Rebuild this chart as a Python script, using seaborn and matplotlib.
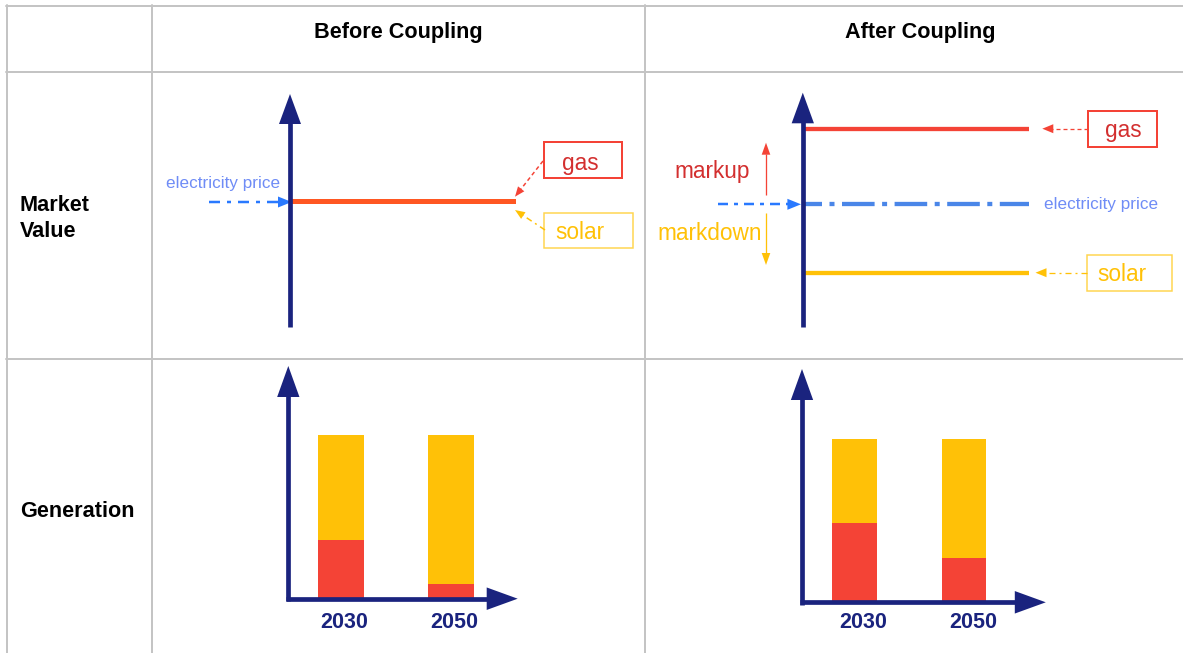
import matplotlib
matplotlib.use("Agg")
import matplotlib.pyplot as plt
import seaborn as sns
import numpy as np
import pandas as pd
from matplotlib.patches import Polygon, Rectangle

# ---------------- data ----------------
columns = ["Before Coupling", "After Coupling"]
row_labels = ["Market\nValue", "Generation"]
years = ["2030", "2050"]
total_generation = [1.0, 1.0]
gas_share_before = [0.36, 0.09]
gas_share_after = [0.487, 0.273]
price_level = 1.0
market_before_gas = 1.0
market_before_solar = 1.0
market_after_gas = 1.618
market_after_solar = 0.441

# ---------------- style ----------------
W, H = 1183, 653
NAVY = "#1a237e"
RED = "#f44336"
RED_TXT = "#d32f2f"
AMBER = "#ffc107"
AMBER_BOX = "#ffd54f"
ORANGE = "#ff5722"
BLUE = "#2979ff"
BLUE_LINE = "#4a86e8"
BLUE_TXT = "#6f8cf6"
GRID = "#c4c4c4"

sns.set_theme(style="white")
plt.rcParams["font.family"] = ["Liberation Sans", "DejaVu Sans"]
plt.rcParams["lines.scale_dashes"] = False

PT = 0.72  # pixel -> point at dpi 100
LBL = 16.3  # label font size in boxes

fig = plt.figure(figsize=(W / 100, H / 100), dpi=100)
fig.patch.set_facecolor("white")


def frac(x0, x1, ytop, ybot):
    return [x0 / W, 1 - ybot / H, (x1 - x0) / W, (ybot - ytop) / H]


def make_ax(p):
    ax = fig.add_axes(frac(p["x0"], p["x1"], p["ytop"], p["ybot"]))
    ax.set_facecolor("none")
    return ax


# panel geometry (pixels)
mv_before = dict(x0=290, x1=515.7, ytop=94, ybot=326.7)
mv_after = dict(x0=804.5, x1=1029.3, ytop=92.7, ybot=326.7)
gen_before = dict(x0=288.3, x1=517.7, ytop=366, ybot=598.7,
                  xlim=(-0.479, 1.606), ylim=(0, 1.4215), width=0.41, lab=(3, -29.6))
gen_after = dict(x0=802, x1=1045.8, ytop=369, ybot=602.3,
                 xlim=(-0.476, 1.744), ylim=(0, 1.429), width=0.406, lab=(9, -26))

# ---- market value: before ----
axb = make_ax(mv_before)
axb.plot([0, 1], [market_before_gas] * 2, color=ORANGE, lw=5 * PT, solid_capstyle="butt")
axb.set_xlim(0, 1)
axb.set_ylim(0, 1.851)
axb.axis("off")

# ---- market value: after ----
axa = make_ax(mv_after)
axa.plot([0, 1], [market_after_gas] * 2, color=RED, lw=4.3 * PT, solid_capstyle="butt")
axa.plot([0, 1], [price_level] * 2, color=BLUE_LINE, lw=4.3 * PT,
         ls=(15.6 * PT, (32.6 * PT, 7.5 * PT, 5 * PT, 7.5 * PT)), dash_capstyle="butt")
axa.plot([0, 1], [market_after_solar] * 2, color=AMBER, lw=4.3 * PT, solid_capstyle="butt")
axa.set_xlim(0, 1)
axa.set_ylim(0, 1.912)
axa.axis("off")


# ---- generation bars ----
def gen_panel(p, gas_share):
    ax = make_ax(p)
    df = pd.DataFrame({"year": years, "total": total_generation, "gas": gas_share})
    sns.barplot(data=df, x="year", y="total", color=AMBER, saturation=1,
                width=p["width"], linewidth=0, errorbar=None, ax=ax)
    sns.barplot(data=df, x="year", y="gas", color=RED, saturation=1,
                width=p["width"], linewidth=0, errorbar=None, ax=ax)
    ax.set_xlim(*p["xlim"])
    ax.set_ylim(*p["ylim"])
    ax.axis("off")
    for i, y in enumerate(years):
        ax.annotate(y, xy=(i, 0), xycoords=("data", "axes fraction"),
                    xytext=p["lab"], textcoords="offset pixels",
                    ha="center", va="baseline", fontsize=15.5, fontweight="bold",
                    color=NAVY, annotation_clip=False)
    return ax


gen_panel(gen_before, gas_share_before)
gen_panel(gen_after, gas_share_after)

# ---------------- overlay (pixel coordinates) ----------------
ax0 = fig.add_axes([0, 0, 1, 1])
ax0.set_xlim(0, W)
ax0.set_ylim(H, 0)
ax0.set_facecolor("none")
ax0.axis("off")


def arrow(x0, y0, x1, y1, color, lw, hl, hw, ls="-"):
    d = np.array([x1 - x0, y1 - y0], dtype=float)
    L = np.hypot(*d)
    u = d / L
    n = np.array([-u[1], u[0]])
    tip = np.array([x1, y1], dtype=float)
    base = tip - u * hl
    end = base + u * 1.0
    ax0.plot([x0, end[0]], [y0, end[1]], color=color, lw=lw * PT, ls=ls,
             solid_capstyle="butt", dash_capstyle="butt")
    ax0.add_patch(Polygon([tip, base + n * hw / 2, base - n * hw / 2],
                          closed=True, facecolor=color, edgecolor="none"))


def box(x0, y0, x1, y1, color, lw):
    ax0.add_patch(Rectangle((x0, y0), x1 - x0, y1 - y0, fill=False,
                            edgecolor=color, lw=lw * PT))


def label(x, y, s, color, size=LBL, ha="center", **kw):
    ax0.text(x, y, s, ha=ha, va="baseline", fontsize=size, color=color, **kw)


# table grid
for x in [7, 152.5, 645.5]:
    ax0.plot([x, x], [5, H], color=GRID, lw=2 * PT)
for y in [6, 72, 359]:
    ax0.plot([6, W], [y, y], color=GRID, lw=2 * PT)

# headers
label(398.3, 38.3, columns[0], "black", size=15.6, fontweight="bold")
label(920, 38.3, columns[1], "black", size=15.6, fontweight="bold")
for line, yb in zip(row_labels[0].split("\n"), [210.7, 237.3]):
    label(20, yb, line, "black", size=15.6, ha="left", fontweight="bold")
label(20, 516.7, row_labels[1], "black", size=15.6, ha="left", fontweight="bold")

dashdot_s = (0, (11 * PT, 7 * PT, 4 * PT, 7 * PT))
dashed_s = (0, (4 * PT, 3 * PT))
dashdot_t = (0, (6 * PT, 4 * PT, 2 * PT, 4 * PT))

# ---- before: market value ----
arrow(mv_before["x0"], mv_before["ybot"], mv_before["x0"], mv_before["ytop"], NAVY, 4.7, 30, 22)
label(223.3, 188.3, "electricity price", BLUE_TXT, size=12.3)
arrow(209, 202, 291.7, 202, BLUE, 2.5, 13.7, 11, ls=dashdot_s)
box(544.3, 142.3, 621.7, 178.3, RED, 2)
label(580.5, 170, "gas", RED_TXT)
arrow(543, 161, 515, 196.7, RED, 1.5, 10, 8, ls=dashed_s)
box(544, 212.7, 632.7, 248.3, AMBER_BOX, 1.5)
label(580, 239.3, "solar", AMBER)
arrow(545, 230, 515, 210, AMBER, 1.5, 10, 8, ls=dashdot_t)

# ---- after: market value ----
arrow(802.8, mv_after["ybot"], 802.8, mv_after["ytop"], NAVY, 4.7, 30.6, 22.3)
arrow(717.7, 204.3, 801, 204.3, BLUE, 2.5, 13.6, 11, ls=(0, (10 * PT, 6 * PT, 4 * PT, 6 * PT)))
label(712, 177.7, "markup", RED_TXT)
arrow(766, 195, 766, 142.7, RED, 1.3, 12, 8.6)
label(709.4, 240, "markdown", AMBER)
arrow(766, 213.3, 766, 265, AMBER, 1.3, 12, 8.6)
arrow(1087.6, 128.7, 1042.3, 128.7, RED, 1.3, 11, 9, ls=dashed_s)
box(1087.6, 110.7, 1157.3, 146.7, RED, 2)
label(1123, 136.7, "gas", RED_TXT)
arrow(1086.6, 272.7, 1035.5, 272.7, AMBER, 1.3, 11, 9, ls=dashdot_t)
box(1086.6, 255, 1172.4, 290.7, AMBER_BOX, 1.5)
label(1121.6, 281, "solar", AMBER)
label(1101.5, 209.3, "electricity price", BLUE_TXT, size=12.3)

# ---- generation axes arrows ----
for p in (gen_before, gen_after):
    arrow(p["x0"], p["ybot"] + 2.3, p["x0"], p["ytop"], NAVY, 4.7, 31, 22.3)
    arrow(p["x0"] - 2.3, p["ybot"], p["x1"], p["ybot"], NAVY, 4.7, 31, 22.5)

fig.savefig("out.png", dpi=100, facecolor="white")
